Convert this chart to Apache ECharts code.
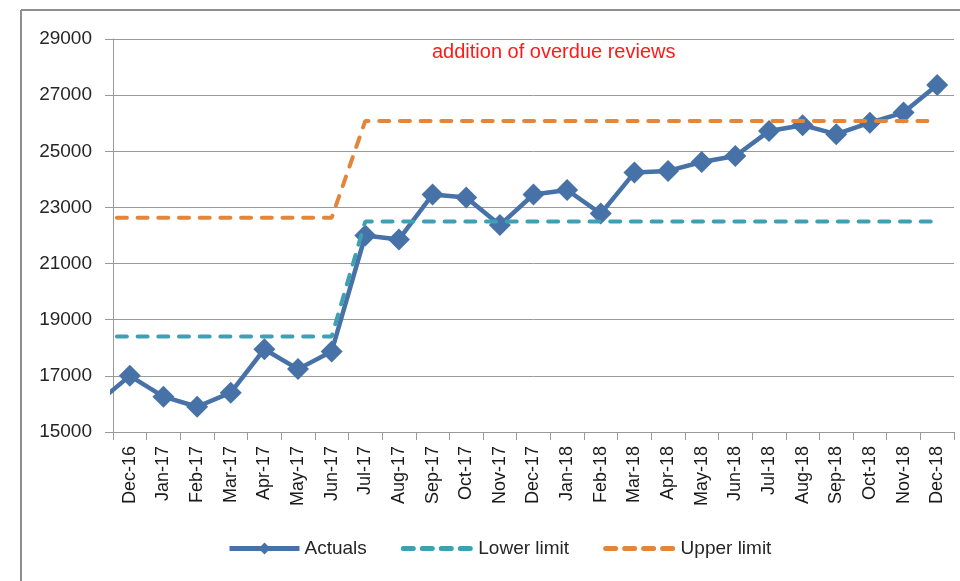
<!DOCTYPE html>
<html>
<head>
<meta charset="utf-8">
<script src="https://cdn.jsdelivr.net/npm/echarts@6/dist/echarts.min.js"></script>
<style>
  html, body { margin: 0; padding: 0; background: #fff; }
  #chart { width: 960px; height: 581px; }
</style>
</head>
<body>
<div id="chart"></div>
<script>
const categories = ['Dec-16','Jan-17','Feb-17','Mar-17','Apr-17','May-17','Jun-17','Jul-17','Aug-17','Sep-17','Oct-17','Nov-17','Dec-17','Jan-18','Feb-18','Mar-18','Apr-18','May-18','Jun-18','Jul-18','Aug-18','Sep-18','Oct-18','Nov-18','Dec-18'];
const actuals = [17000,16260,15900,16400,17950,17240,17870,22000,21860,23460,23350,22370,23460,23620,22780,24240,24300,24620,24830,25720,25930,25610,26020,26380,27360];
const lowerLimit = [18400,18400,18400,18400,18400,18400,18400,22500,22500,22500,22500,22500,22500,22500,22500,22500,22500,22500,22500,22500,22500,22500,22500,22500,22500];
const upperLimit = [22630,22630,22630,22630,22630,22630,22630,26080,26080,26080,26080,26080,26080,26080,26080,26080,26080,26080,26080,26080,26080,26080,26080,26080,26080];
// value of the month before the first label (Nov-16), only its lead-in segment is visible
const priorActual = 16000;
const priorLower = 18400;
const priorUpper = 22630;
const yTicks = [15000, 17000, 19000, 21000, 23000, 25000, 27000, 29000];
const annotation = 'addition of overdue reviews';

function withPrior(prior, arr) {
  const out = [[-1, prior]];
  arr.forEach((v, i) => out.push([i, v]));
  return out;
}

const FONT = 'Liberation Sans';
const chart = echarts.init(document.getElementById('chart'), null, { renderer: 'canvas' });

const dash = [10, 10.7];
const legendDash = [10, 9];

chart.setOption({
  animation: false,
  backgroundColor: '#ffffff',
  grid: { left: 113, top: 39, right: 6, bottom: 149, containLabel: false },
  xAxis: [
    {
      type: 'category',
      data: categories,
      boundaryGap: true,
      axisLine: { show: true, lineStyle: { color: '#9a9a9a', width: 1 } },
      axisTick: { show: true, length: 8, lineStyle: { color: '#9a9a9a' } },
      axisLabel: { rotate: 90, margin: 14, interval: 0, fontFamily: FONT, fontSize: 18, color: '#1a1a1a' },
      splitLine: { show: false }
    },
    {
      type: 'value',
      min: -0.5,
      max: 24.5,
      show: false,
      splitLine: { show: false }
    }
  ],
  yAxis: {
    type: 'value',
    min: yTicks[0],
    max: yTicks[yTicks.length - 1],
    interval: 2000,
    axisLine: { show: true, onZero: false, lineStyle: { color: '#9a9a9a', width: 1 } },
    axisTick: { show: true, length: 8, lineStyle: { color: '#9a9a9a' } },
    axisLabel: { margin: 21, fontFamily: FONT, fontSize: 19, color: '#262626', formatter: v => String(v) },
    splitLine: { show: true, lineStyle: { color: '#9a9a9a', width: 1 } }
  },
  legend: {
    left: 227,
    top: 539,
    padding: 0,
    itemWidth: 70,
    itemHeight: 15,
    itemGap: 34,
    textStyle: { fontFamily: FONT, fontSize: 19, color: '#262626' },
    data: [
      { name: 'Actuals', lineStyle: { width: 5 } },
      { name: 'Lower limit', itemStyle: { opacity: 0 }, lineStyle: { width: 5, type: legendDash, cap: 'round' } },
      { name: 'Upper limit', itemStyle: { opacity: 0 }, lineStyle: { width: 5, type: legendDash, cap: 'round' } }
    ]
  },
  series: [
    {
      name: 'Actuals',
      type: 'line',
      xAxisIndex: 1,
      clip: true,
      data: withPrior(priorActual, actuals),
      symbol: 'diamond',
      symbolSize: 22,
      showAllSymbol: true,
      itemStyle: { color: '#4672a8' },
      lineStyle: { color: '#4672a8', width: 4.5 },
      z: 2
    },
    {
      name: 'Lower limit',
      type: 'line',
      xAxisIndex: 1,
      clip: true,
      data: withPrior(priorLower, lowerLimit),
      symbol: 'none',
      itemStyle: { color: '#3fa0b4' },
      lineStyle: { color: '#3fa0b4', width: 4, type: dash, cap: 'round' },
      z: 3
    },
    {
      name: 'Upper limit',
      type: 'line',
      xAxisIndex: 1,
      clip: true,
      data: withPrior(priorUpper, upperLimit),
      symbol: 'none',
      itemStyle: { color: '#e2863c' },
      lineStyle: { color: '#e2863c', width: 4, type: dash, cap: 'round' },
      z: 4
    }
  ],
  graphic: [
    { type: 'line', shape: { x1: 21, y1: 10, x2: 21, y2: 581 }, style: { stroke: '#8e8e8e', lineWidth: 2 } },
    { type: 'line', shape: { x1: 21, y1: 10, x2: 960, y2: 10 }, style: { stroke: '#8e8e8e', lineWidth: 2 } },
    {
      type: 'text',
      left: 432,
      top: 42,
      style: { text: annotation, fontFamily: FONT, fontSize: 20, fill: '#ff1a1a' }
    }
  ]
});
</script>
</body>
</html>
